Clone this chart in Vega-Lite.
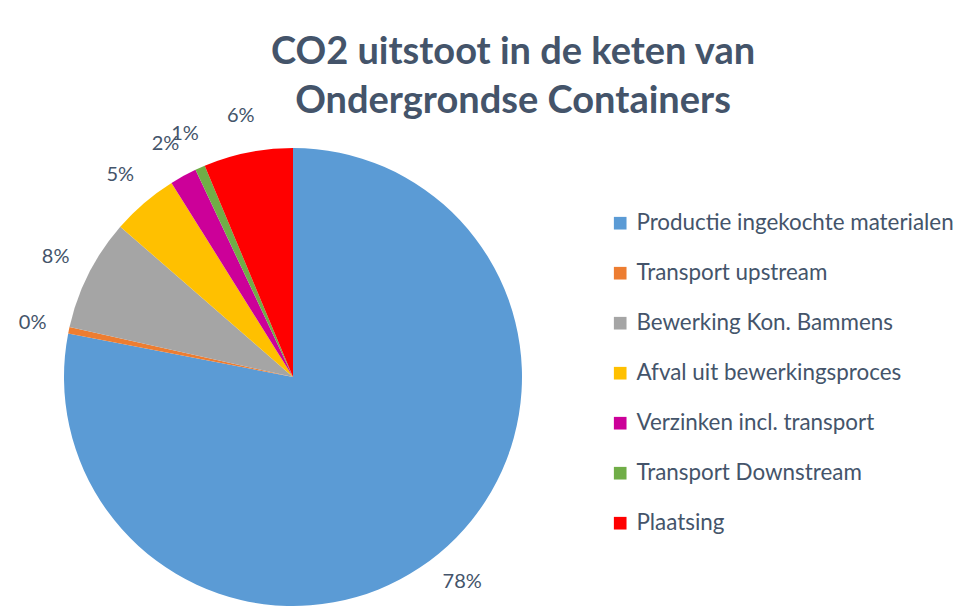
{
  "$schema": "https://vega.github.io/schema/vega-lite/v6.json",
  "width": 586,
  "height": 458,
  "autosize": {"type": "none"},
  "padding": {"left": 0, "top": 148, "right": 374, "bottom": 9},
  "background": "white",
  "title": {
    "text": ["CO2 uitstoot in de keten van", "Ondergrondse Containers"],
    "font": "Lato",
    "fontSize": 38,
    "fontWeight": "bold",
    "color": "#44546a",
    "anchor": "middle",
    "dx": 220,
    "lineHeight": 49,
    "offset": -15
  },
  "data": {
    "values": [
      {"categorie": "Productie ingekochte materialen", "volgorde": 1, "aandeel": 0.7805},
      {"categorie": "Transport upstream", "volgorde": 2, "aandeel": 0.0045},
      {"categorie": "Bewerking Kon. Bammens", "volgorde": 3, "aandeel": 0.079},
      {"categorie": "Afval uit bewerkingsproces", "volgorde": 4, "aandeel": 0.047},
      {"categorie": "Verzinken incl. transport", "volgorde": 5, "aandeel": 0.019},
      {"categorie": "Transport Downstream", "volgorde": 6, "aandeel": 0.007},
      {"categorie": "Plaatsing", "volgorde": 7, "aandeel": 0.063}
    ]
  },
  "encoding": {
    "theta": {"field": "aandeel", "type": "quantitative", "stack": true},
    "order": {"field": "volgorde", "type": "quantitative", "sort": "ascending"}
  },
  "layer": [
    {
      "mark": {"type": "arc", "outerRadius": 229, "strokeWidth": 0},
      "encoding": {
        "color": {
          "field": "categorie",
          "type": "nominal",
          "sort": ["Productie ingekochte materialen", "Transport upstream", "Bewerking Kon. Bammens", "Afval uit bewerkingsproces", "Verzinken incl. transport", "Transport Downstream", "Plaatsing"],
          "scale": {
            "domain": ["Productie ingekochte materialen", "Transport upstream", "Bewerking Kon. Bammens", "Afval uit bewerkingsproces", "Verzinken incl. transport", "Transport Downstream", "Plaatsing"],
            "range": ["#5b9bd5", "#ed7d31", "#a5a5a5", "#ffc000", "#cc0099", "#70ad47", "#ff0000"]
          },
          "legend": {
            "title": null,
            "orient": "none",
            "legendX": 609,
            "legendY": 64,
            "padding": 0,
            "symbolType": "square",
            "symbolSize": 160,
            "symbolStrokeWidth": 0,
            "labelFont": "Lato",
            "labelFontSize": 22.4,
            "labelColor": "#44546a",
            "labelOffset": 5,
            "labelLimit": 400,
            "rowPadding": 27
          }
        }
      }
    },
    {
      "mark": {"type": "text", "radius": 266, "font": "Lato", "fontSize": 20, "align": "center", "baseline": "middle", "color": "#44546a"},
      "encoding": {
        "text": {"field": "aandeel", "type": "quantitative", "format": ".0%"}
      }
    }
  ],
  "config": {"view": {"stroke": null}}
}
